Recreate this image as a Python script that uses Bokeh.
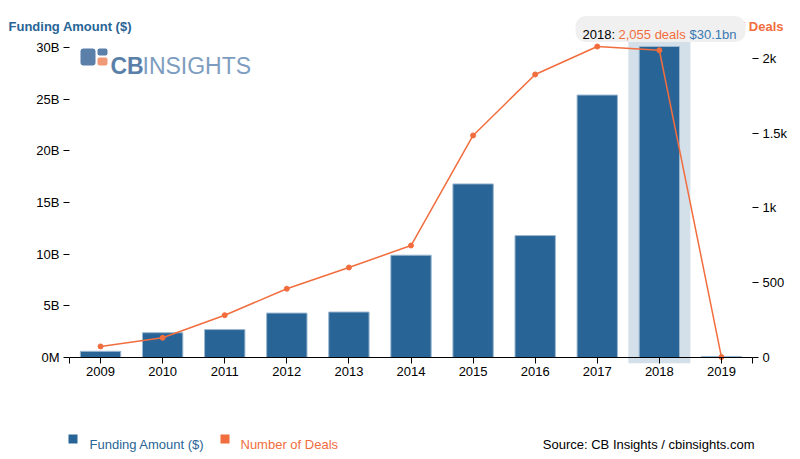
from bokeh.plotting import figure
from bokeh.models import (ColumnDataSource, Range1d, LinearAxis,
                          FixedTicker, CustomJSTickFormatter, Label, BoxAnnotation)
from bokeh.embed import file_html
from bokeh.resources import INLINE

# ---- data ----
years = [2009, 2010, 2011, 2012, 2013, 2014, 2015, 2016, 2017, 2018, 2019]
funding_bn = [0.6, 2.4, 2.7, 4.3, 4.4, 9.9, 16.8, 11.8, 25.4, 30.1, 0.1]
deals = [74, 132, 283, 460, 602, 749, 1485, 1893, 2080, 2055, 3]
left_ticks = [0, 5, 10, 15, 20, 25, 30]
right_ticks = [0, 500, 1000, 1500, 2000]
highlight_year = 2018

BLUE = "#286496"
ORANGE = "#f26d3d"
FONT = "Liberation Sans"

W, H = 800, 459
# plot area in page pixels
PL, PR, PT, PB = 69, 752, 46, 357

x0, x1 = years[0] - 0.5, years[-1] + 0.5
xs = (PR - PL) / (x1 - x0)
fmax = max(funding_bn)
ys = (PB - PT) / fmax
dmax = max(deals)
ds = (PB - PT) / dmax

src = ColumnDataSource(dict(year=years, funding=funding_bn, deals=deals))

p = figure(width=W, height=H, output_backend="svg", toolbar_location=None,
           x_range=Range1d(x0 - PL / xs, x1 + (W - PR) / xs),
           y_range=Range1d(-(H - PB) / ys, fmax + PT / ys),
           min_border=0, x_axis_type=None, y_axis_type=None,
           outline_line_color=None, background_fill_color="white", border_fill_color="white")
p.extra_y_ranges = {"deals": Range1d(-(H - PB) / ds, dmax + PT / ds)}
p.grid.visible = False


def sbox(l, r, t, b, level="annotation", **kw):
    """box in page pixels"""
    p.add_layout(BoxAnnotation(left=l, right=r, top=H - t, bottom=H - b,
                               left_units="screen", right_units="screen",
                               top_units="screen", bottom_units="screen",
                               line_color=None, fill_alpha=1.0, level=level, **kw))


def lab(text, x, y, color="black", size="13px", style="normal", align="left", level="annotation"):
    p.add_layout(Label(text=text, x=x, y=H - y, x_units="screen", y_units="screen",
                       text_color=color, text_font_size=size, text_font_style=style,
                       text_align=align, text_baseline="alphabetic", text_font=FONT,
                       level=level))


# highlight band behind 2018
p.add_layout(BoxAnnotation(left=highlight_year - 0.5, right=highlight_year + 0.5,
                           top=H - 40.7, bottom=H - 362.7,
                           top_units="screen", bottom_units="screen",
                           fill_color="#d3e0ea", fill_alpha=1.0, line_color=None,
                           level="underlay"))

p.vbar(x="year", top="funding", width=0.65, source=src, fill_color=BLUE,
       line_color="#9bb7d0", line_width=1)
p.line(x="year", y="deals", source=src, y_range_name="deals", line_color=ORANGE, line_width=1.5)
p.scatter(x="year", y="deals", source=src, y_range_name="deals", size=5,
          fill_color=ORANGE, line_color=ORANGE)


def style_axis(a):
    a.major_tick_out = 6
    a.major_tick_in = 0
    a.minor_tick_line_color = None
    a.major_tick_line_color = "black"
    a.major_label_text_font = FONT
    a.major_label_text_font_size = "13px"
    a.major_label_text_color = "black"


xa = LinearAxis(fixed_location=0, bounds=(x0, x1),
                ticker=FixedTicker(ticks=[x0] + years + [x1]),
                formatter=CustomJSTickFormatter(code="return Number.isInteger(tick) ? String(tick) : '';"))
style_axis(xa)
xa.axis_line_color = "black"
xa.major_label_standoff = 3
p.add_layout(xa, "below")

ly = LinearAxis(fixed_location=x0, ticker=FixedTicker(ticks=left_ticks),
                formatter=CustomJSTickFormatter(code="return tick == 0 ? '0M' : tick + 'B';"))
style_axis(ly)
ly.axis_line_color = None
ly.major_label_standoff = 4
p.add_layout(ly, "left")

ry = LinearAxis(fixed_location=x1, y_range_name="deals", ticker=FixedTicker(ticks=right_ticks),
                formatter=CustomJSTickFormatter(code="return tick >= 1000 ? (tick/1000) + 'k' : String(tick);"))
style_axis(ry)
ry.axis_line_color = None
ry.major_label_standoff = 4
p.add_layout(ry, "right")

# axis titles
lab("Funding Amount ($)", 8, 25.5, color=BLUE, style="bold", level="glyph")
lab("Number of Deals", 783, 25.5, color=ORANGE, style="bold", align="right", level="glyph")

# tooltip
sbox(575, 745, 15.5, 41.5, fill_color="#f0f0f0", border_radius=10, level="overlay")
hi = years.index(highlight_year)
lab(f"{highlight_year}:", 582, 33.5, color="black", level="overlay")
lab(f"{deals[hi]:,} deals", 618, 33.5, color=ORANGE, level="overlay")
lab(f"${funding_bn[hi]}bn", 689, 33.5, color="#3a78b0", level="overlay")

# logo
LOGO = "#5a7fa8"
sbox(80, 95, 48, 65, fill_color=LOGO, border_radius=3)
sbox(97, 107, 48, 55, fill_color=LOGO, border_radius=2)
sbox(97, 107, 57, 65, fill_color="#f09a78", border_radius=2)
lab("CB", 110, 65, color=LOGO, size="23px", style="bold")
lab("INSIGHTS", 142, 65, color="#7d9dc0", size="23px")

# legend
sbox(68, 77, 434, 443, fill_color=BLUE)
lab("Funding Amount ($)", 89, 443.5, color=BLUE)
sbox(220, 229, 434, 443, fill_color=ORANGE)
lab("Number of Deals", 240, 443.5, color=ORANGE)
lab("Source: CB Insights / cbinsights.com", 754, 443.5, color="black", align="right")

open("out.html", "w").write(file_html(p, INLINE))
